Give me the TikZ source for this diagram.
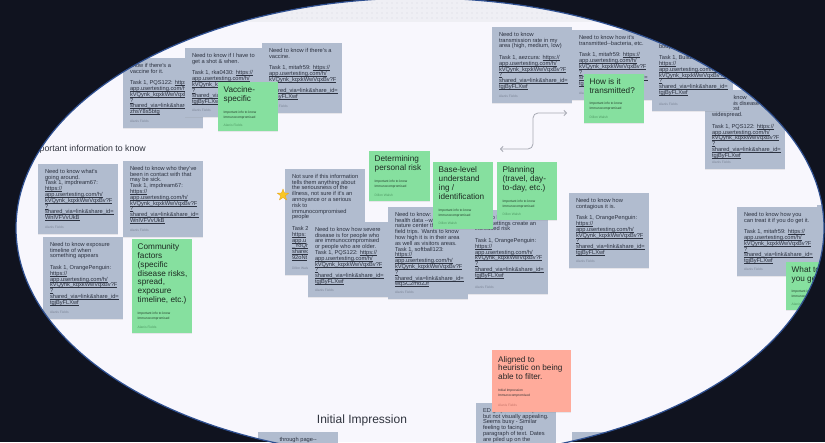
\documentclass[tikz,border=0pt]{standalone}
\usepackage{fontspec}
\setmainfont{Liberation Sans}
\usetikzlibrary{shapes.geometric,arrows.meta,shadows}

\definecolor{bgdark}{HTML}{10131F}
\definecolor{canvas}{HTML}{F8F7FD}
\definecolor{band}{HTML}{EFEFF4}
\definecolor{bandDot}{HTML}{D8D9E2}
\definecolor{edgeblue}{HTML}{2E4F90}
\definecolor{graynote}{HTML}{B1BCCF}
\definecolor{greennote}{HTML}{86E09F}
\definecolor{salmonnote}{HTML}{FFAB9B}
\definecolor{inktext}{HTML}{2C3240}
\definecolor{authgray}{HTML}{7C8597}
\definecolor{authgreen}{HTML}{4E9963}
\definecolor{authsalmon}{HTML}{C8766A}
\definecolor{greenink}{HTML}{1C2A21}
\definecolor{greentiny}{HTML}{24402C}
\definecolor{headink}{HTML}{30343E}
\definecolor{conngray}{HTML}{A7A9B3}
\definecolor{staryellow}{HTML}{FAC724}
\definecolor{starorange}{HTML}{E9A21A}

\newcommand\lk[1]{\setbox0=\hbox{#1}\rlap{\rule[-0.85pt]{\wd0}{0.3pt}}\box0}
\newcommand\bl{\\[5.8pt]}
\newcommand\tightlines{\lineskiplimit=-100pt\relax\lineskip=0pt\relax}
\newcommand\lkblock[1]{\lk{app.usertesting.com/h/}\\\lk{kVQynk\_kqxkWwVqxBv?F}\\\lk{?}\\\lk{shared\_via=link\&share\_id=}\\\lk{#1}}

\tikzset{
  gbox/.style={fill=graynote, anchor=north west, inner sep=0pt, outer sep=0pt,
    drop shadow={shadow xshift=0pt,shadow yshift=-0.7pt,opacity=0.15}},
  grbox/.style={fill=greennote, anchor=north west, inner sep=0pt, outer sep=0pt,
    drop shadow={shadow xshift=0pt,shadow yshift=-0.7pt,opacity=0.15}},
  sabox/.style={fill=salmonnote, anchor=north west, inner sep=0pt, outer sep=0pt,
    drop shadow={shadow xshift=0pt,shadow yshift=-0.7pt,opacity=0.15}},
  bodytext/.style={anchor=north west, inner sep=0pt, align=left, text=inktext,
    font=\fontsize{5.7}{5.8}\selectfont\tightlines},
  titletext/.style={anchor=north west, inner sep=0pt, align=left, text=greenink,
    font=\fontsize{8.2}{8.8}\selectfont\tightlines},
  tinytext/.style={anchor=north west, inner sep=0pt, align=left, text=greentiny,
    font=\fontsize{3.3}{4.3}\selectfont\tightlines},
  authtext/.style={anchor=west, inner sep=0pt, font=\fontsize{3.3}{4}\selectfont},
  heading/.style={inner sep=0pt, text=headink},
  conn/.style={draw=conngray, line width=0.8pt, rounded corners=5pt,
    {Straight Barb[length=2.6pt,width=5.5pt]}-{Straight Barb[length=2.6pt,width=5.5pt]}},
  edge/.style={draw=edgeblue, line width=1.2pt}
}

% gray note: name, x, y, w, h, body, author
\newcommand\gnote[7]{%
  \node[gbox, minimum width=#4pt, minimum height=#5pt] (#1) at (#2,#3) {};
  \node[bodytext] (#1-t) at ([xshift=6.8pt,yshift=-5pt]#1.north west) {#6};
  \node[authtext, text=authgray] (#1-a) at ([xshift=6.8pt,yshift=6.5pt]#1.south west) {#7};}
% green note: name, x, y, w, h, title, tiny y, author
\newcommand\grnote[8]{%
  \node[grbox, minimum width=#4pt, minimum height=#5pt] (#1) at (#2,#3) {};
  \node[titletext] (#1-t) at ([xshift=5.5pt,yshift=-4.5pt]#1.north west) {#6};
  \node[tinytext] (#1-s) at ({#2+5.5},{#7-1.8}) {Important info to know\\Immunocompromised};
  \node[authtext, text=authgreen] (#1-a) at ([xshift=5.5pt,yshift=6pt]#1.south west) {#8};}

\begin{document}
\begin{tikzpicture}[x=1pt,y=-1pt]
\useasboundingbox (0,0) rectangle (825,442);
\fill[bgdark] (0,0) rectangle (825,442);

\begin{scope}
\clip (420,228) ellipse [x radius=404pt,y radius=230pt];
\fill[canvas] (0,0) rectangle (825,442);
\fill[band] (0,-5) rectangle (825,22);
\foreach \dx in {2,7,...,822}{\foreach \dy in {3,8,13,18}{\fill[bandDot] (\dx,\dy) circle (0.55pt);}}

% --- top-left cluster: vaccine
\gnote{nA}{123}{58}{80}{70}{know if there's a\\vaccine for it.\bl Task 1, PQS122: \lk{https://}\\\lkblock{zhsY8s5btg}}{Alanis Fields}
\gnote{nB}{185}{48}{77}{69}{Need to know if I have to\\get a shot \& when.\bl Task 1, rka0430: \lk{https://}\\\lkblock{tgjByFLXwf}}{Alanis Fields}
\gnote{nC}{262}{43}{80}{70}{Need to know if there's a\\vaccine.\bl Task 1, mitafr59: \lk{https://}\\\lkblock{tgjByFLXwf}}{Alanis Fields}
\grnote{gVac}{218}{82}{60}{49}{Vaccine-\\specific}{113}{Alanis Fields}

% --- heading
\node[heading, anchor=east, font=\fontsize{8.8}{10}\selectfont] (head1) at (146,149) {Important information to know};

% --- left cluster
\gnote{nD}{38}{164}{80}{70}{Need to know what's\\going around.\\Task 1, impdream67:\\\lk{https://}\\\lkblock{WnlVFVvUkB}}{Alanis Fields}
\gnote{nE}{123}{161}{80}{76}{Need to know who they've\\been in contact with that\\may be sick.\\Task 1, impdream67:\\\lk{https://}\\\lkblock{WnlVFVvUkB}}{Alanis Fields}
\gnote{nF}{43}{237}{80}{82}{Need to know exposure\\timeline of when\\something appears\bl Task 1, OrangePenguin:\\\lk{https://}\\\lkblock{tgjByFLXwf}}{Alanis Fields}
\grnote{gCom}{132}{239}{60}{94}{Community\\factors\\(specific\\disease risks,\\spread,\\exposure\\timeline, etc.)}{314}{Alanis Fields}

% --- centre cluster
\gnote{nH}{285}{169}{80}{106}{Not sure if this information\\tells them anything about\\the seriousness of the\\illness, not sure if it's an\\annoyance or a serious\\risk to\\immunocompromised\\people\bl Task 2\\\lk{https:}\\\lk{app.u}\\\lk{\_YoQh}\\\lk{shared}\\\lk{92oNt}}{Dillon Walsh}
\node[star, star points=5, star point ratio=2.4, fill=staryellow, draw=starorange,
  line width=0.3pt, minimum size=12pt, inner sep=0pt] (star) at (283,195) {};
\gnote{nL}{308}{222}{80}{75}{Need to know how severe\\disease is for people who\\are immunocompromised\\or people who are older.\\Task 1, PQS122: \lk{https://}\\\lkblock{tgjByFLXwf}}{Alanis Fields}
\gnote{nM}{388}{207}{80}{92}{Need to know: how high\\health data -{}-where\\nature center they go on\\field trips. Wants to know\\how high it is in their area\\as well as visitors areas.\\Task 1, softball123:\\\lk{https://}\\\lkblock{wqSC2mo2Jf}}{Alanis Fields}
\gnote{nN}{468}{210}{80}{84}{Need to know which\\social settings create an\\increased risk\bl Task 1, OrangePenguin:\\\lk{https://}\\\lkblock{tgjByFLXwf}}{Alanis Fields}
\grnote{gRisk}{369}{151}{61}{50}{Determining\\personal risk}{182}{Dillon Walsh}
\grnote{gBase}{433}{162}{60}{67}{Base-level\\understand\\ing /\\identification}{211}{Dillon Walsh}
\grnote{gPlan}{497}{162}{60}{58}{Planning\\(travel, day-\\to-day, etc.)}{202}{Dillon Walsh}

% --- connector
\coordinate (arrL) at (500,149);
\coordinate (arrM) at (533,149);
\coordinate (arrR) at (567,113);
\draw[conn] (arrL) -- (arrM) |- (arrR);

% --- top-right cluster
\gnote{nO}{492}{27}{80}{76}{Need to know\\transmission rate in my\\area (high, medium, low)\bl Task 1, aezcura: \lk{https://}\\\lkblock{tgjByFLXwf}}{Alanis Fields}
\gnote{nP}{572}{30}{80}{70}{Need to know how it's\\transmitted-{}-bacteria, etc.\bl Task 1, mitafr59: \lk{https://}\\\lkblock{tgjByFLXwf}}{Alanis Fields}
\grnote{gTra}{584}{74}{60}{49}{How is it\\transmitted?}{104}{Dillon Walsh}
\gnote{nS}{705}{90}{80}{79}{Need to know\\where this disease\\is the most\\widespread.\bl Task 1, PQS122: \lk{https://}\\\lkblock{tgjByFLXwf}}{Alanis Fields}
\gnote{nR}{652}{37}{81}{74}{\mbox{}\\body.\bl Task 1, Building\\\lk{https://}\\\lkblock{tgjByFLXwf}}{Alanis Fields}

% --- right cluster
\gnote{nT}{569}{193}{80}{75}{Need to know how\\contagious it is.\bl Task 1, OrangePenguin:\\\lk{https://}\\\lkblock{tgjByFLXwf}}{Alanis Fields}
\gnote{nV}{817}{205}{80}{75}{}{}
\gnote{nU}{737}{207}{80}{69}{Need to know how you\\can treat it if you do get it.\bl Task 1, mitafr59: \lk{https://}\\\lkblock{tgjByFLXwf}}{Alanis Fields}
\grnote{gWhat}{786}{262}{60}{48}{What to do if\\you get it}{292}{Alanis Fields}

% --- bottom
\gnote{nY}{476}{403}{80}{60}{ED graph looks simple\\but not visually appealing.\\Seems busy - Similar\\feeling to facing\\paragraph of text. Dates\\are piled up on the}{}
\node[sabox, minimum width=79pt, minimum height=62pt] (sW) at (492,350) {};
\node[titletext, text=black!85] (sW-t) at ([xshift=6pt,yshift=-6pt]sW.north west) {Aligned to\\heuristic on being\\able to filter.};
\node[tinytext, text=black!80] (sW-s) at (498,389.2) {Initial Impression\\Immunocompromised};
\node[authtext, text=authsalmon] (sW-a) at ([xshift=6pt,yshift=7pt]sW.south west) {Alanis Fields};
\node[heading, font=\fontsize{12}{14}\selectfont] (head2) at (362,420) {Initial Impression};
\gnote{nX}{258}{432}{80}{40}{\hspace*{14.5pt}through page-{}-}{}
\gnote{nZ}{572}{432}{80}{40}{}{}
\end{scope}

\draw[edge] (420,228) ellipse [x radius=404pt,y radius=230pt];
\end{tikzpicture}
\end{document}
